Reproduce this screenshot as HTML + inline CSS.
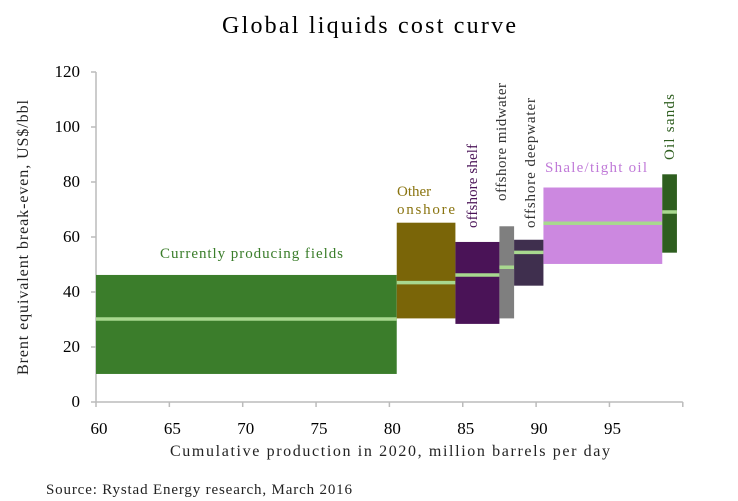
<!DOCTYPE html>
<html><head><meta charset="utf-8"><style>
body{margin:0;background:#fff;}
svg{display:block;font-family:"Liberation Serif",serif;}
</style></head><body>
<svg id="chart" width="738" height="501">
<text x="222" y="33" textLength="294" lengthAdjust="spacing" font-size="24" fill="#000">Global liquids cost curve</text>
<g id="axes"></g>
<g id="boxes"></g>
<text transform="translate(28,375) rotate(-90)" textLength="275" lengthAdjust="spacing" font-size="16" fill="#222">Brent equivalent break-even, US$/bbl</text>
<text x="170" y="456" textLength="440" lengthAdjust="spacing" font-size="16" fill="#222">Cumulative production in 2020, million barrels per day</text>
<text x="46" y="494" textLength="306" lengthAdjust="spacing" font-size="15" fill="#222">Source: Rystad Energy research, March 2016</text>
<text x="160" y="258" textLength="183" lengthAdjust="spacing" font-size="15" fill="#3a7d2a">Currently producing fields</text>
<text x="397" y="196" font-size="15" fill="#8a7410">Other</text>
<text x="397" y="214" textLength="58" lengthAdjust="spacing" font-size="15" fill="#8a7410">onshore</text>
<text transform="translate(477,228) rotate(-90)" textLength="84" lengthAdjust="spacing" font-size="15" fill="#4a1357">offshore shelf</text>
<text transform="translate(506,201) rotate(-90)" textLength="118" lengthAdjust="spacing" font-size="15" fill="#333">offshore midwater</text>
<text transform="translate(535,228) rotate(-90)" textLength="130" lengthAdjust="spacing" font-size="15" fill="#333">offshore deepwater</text>
<text x="545" y="172" textLength="102" lengthAdjust="spacing" font-size="15" fill="#c07ad8">Shale/tight oil</text>
<text transform="translate(674,160) rotate(-90)" textLength="66" lengthAdjust="spacing" font-size="15" fill="#2e5e1f">Oil sands</text>
</svg>
<script>
const names=["currently-producing","other-onshore","offshore-shelf","offshore-midwater","offshore-deepwater","shale-tight-oil","oil-sands"];
const xStart=[60,80.5,84.5,87.5,88.5,90.5,98.6];
const xEnd=[80.5,84.5,87.5,88.5,90.5,98.6,99.6];
const lowVals=[10.2,30.4,28.4,30.4,42.3,50.2,54.3];
const highVals=[46.2,65.2,58.2,63.9,59,78,82.8];
const medianVals=[30.2,43.4,46.2,49,54.4,65,69.1];
const colors=["#3b7d2b","#7a6508","#4a1357","#7f7f7f","#3f2f4e","#cc88e0","#2e5e1f"];
const xTicks=[60,65,70,75,80,85,90,95,100];
const xTickLabels=["60","65","70","75","80","85","90","95",""];
const yTicks=[0,20,40,60,80,100,120];
const NS="http://www.w3.org/2000/svg";
const X=v=>96+(v-60)*14.67;
const Y=v=>402-v*2.75;
function mk(t,a,p){const e=document.createElementNS(NS,t);for(const k in a)e.setAttribute(k,a[k]);p.appendChild(e);return e;}
const ax=document.getElementById('axes'),bx=document.getElementById('boxes');
let l=mk('line',{x1:X(60),x2:X(100),y1:Y(0),y2:Y(0),stroke:'#bbb','stroke-width':1.5},ax);


l=mk('line',{x1:X(60),x2:X(60),y1:Y(0),y2:Y(120),stroke:'#bbb','stroke-width':1.5},ax);


xTicks.forEach((t,i)=>{
 const tk=mk('line',{x1:X(t),x2:X(t),y1:Y(0),y2:Y(0)+5,stroke:'#bbb','stroke-width':1.5},ax);
 
 
 const tx=mk('text',{x:X(t)+3,y:434,'text-anchor':'middle','font-size':17,fill:'#000'},ax);
 tx.textContent=xTickLabels[i];
 
 
});
yTicks.forEach(t=>{
 const tk=mk('line',{x1:X(60)-5,x2:X(60),y1:Y(t),y2:Y(t),stroke:'#bbb','stroke-width':1.5},ax);
 
 
 const tx=mk('text',{x:80,y:Y(t)+5,'text-anchor':'end','font-size':17,fill:'#000'},ax);
 tx.textContent=t;
 
 
});
names.forEach((n,i)=>{
 const r=mk('rect',{x:X(xStart[i]),y:Y(highVals[i]),width:X(xEnd[i])-X(xStart[i]),height:Y(lowVals[i])-Y(highVals[i]),fill:colors[i]},bx);
 
 
 const m=mk('line',{x1:X(xStart[i]),x2:X(xEnd[i]),y1:Y(medianVals[i]),y2:Y(medianVals[i]),stroke:'#a8d88f','stroke-width':3.5},bx);
 
 
});
</script>
</body></html>
